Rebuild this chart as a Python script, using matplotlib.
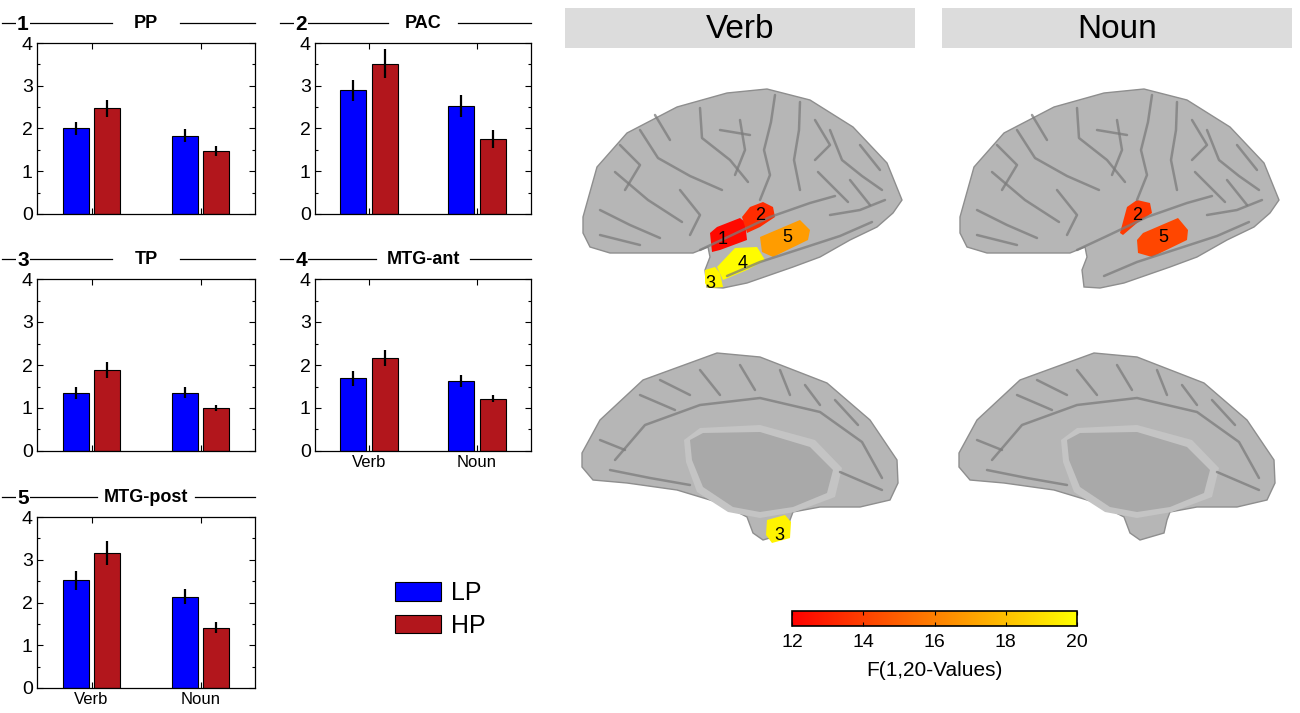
import matplotlib
matplotlib.use('Agg')
import matplotlib.pyplot as plt
import numpy as np
from matplotlib.patches import Polygon, Rectangle
from matplotlib.ticker import MultipleLocator
from matplotlib import colors as mcolors

plt.rcParams['font.family'] = ['Liberation Sans', 'DejaVu Sans']

# ---------------- data ----------------
regions = ['PP', 'PAC', 'TP', 'MTG-ant', 'MTG-post']
region_ids = ['1', '2', '3', '4', '5']
categories = ['Verb', 'Noun']
groups = ['LP', 'HP']
lp_means = [[2.00, 1.83], [2.89, 2.53], [1.34, 1.36], [1.69, 1.63], [2.52, 2.14]]
hp_means = [[2.47, 1.47], [3.52, 1.76], [1.89, 1.00], [2.17, 1.22], [3.16, 1.41]]
lp_err = [[0.16, 0.15], [0.24, 0.26], [0.14, 0.13], [0.17, 0.14], [0.22, 0.18]]
hp_err = [[0.20, 0.12], [0.33, 0.21], [0.19, 0.07], [0.19, 0.09], [0.28, 0.13]]
yticks = [0, 1, 2, 3, 4]

# ROI F-values shown on the brain maps (colour coded)
verb_roi_ids = ['1', '2', '5', '4', '3']
verb_roi_F = [12.3, 13.4, 16.9, 19.9, 19.7]
noun_roi_ids = ['2', '5']
noun_roi_F = [13.8, 14.2]
medial_roi_ids = ['3']
medial_roi_F = [19.6]
cbar_range = [12, 20]
cbar_ticks = [12, 14, 16, 18, 20]
cbar_label = 'F(1,20-Values)'
panel_titles = ['Verb', 'Noun']

LP_COLOR = '#0000FF'
HP_COLOR = '#B2161C'

W, H = 1300, 713
fig = plt.figure(figsize=(W / 100, H / 100), dpi=100)


def fr(x0, y0, x1, y1):
    return [x0 / W, 1 - y1 / H, (x1 - x0) / W, (y1 - y0) / H]


# overlay axes in pixel coordinates
ov = fig.add_axes([0, 0, 1, 1])
ov.set_xlim(0, W)
ov.set_ylim(H, 0)
ov.axis('off')

# ---------------- bar panels ----------------
boxes = [(37, 43, 255, 214), (315, 43, 531, 214), (37, 279, 255, 451),
         (315, 279, 531, 451), (37, 517, 255, 688)]
halfgaps = [34, 35, 34, 47, 49]
show_xlabels = [False, False, False, True, True]
x = np.arange(1, len(categories) + 1)
off, bw = 0.145, 0.24
bar_handles = None
for i, (x0, y0, x1, y1) in enumerate(boxes):
    ax = fig.add_axes(fr(x0, y0, x1, y1))
    b1 = ax.bar(x - off, lp_means[i], bw, color=LP_COLOR, edgecolor='black', linewidth=0.8, label=groups[0])
    b2 = ax.bar(x + off, hp_means[i], bw, color=HP_COLOR, edgecolor='black', linewidth=0.8, label=groups[1])
    ax.errorbar(x - off, lp_means[i], yerr=lp_err[i], fmt='none', ecolor='black', elinewidth=1.6, capsize=0)
    ax.errorbar(x + off, hp_means[i], yerr=hp_err[i], fmt='none', ecolor='black', elinewidth=1.6, capsize=0)
    if bar_handles is None:
        bar_handles = [b1, b2]
    ax.set_xlim(0.5, 2.5)
    ax.set_ylim(0, 4)
    ax.set_yticks(yticks)
    ax.yaxis.set_minor_locator(MultipleLocator(0.5))
    ax.set_xticks(x)
    if show_xlabels[i]:
        ax.set_xticklabels(categories, fontsize=12)
    else:
        ax.set_xticklabels([])
    ax.tick_params(axis='both', which='both', direction='in', top=True, right=True)
    ax.tick_params(axis='y', which='major', length=4, width=0.8, labelsize=14, pad=3)
    ax.tick_params(axis='y', which='minor', length=2.5, width=0.8)
    ax.tick_params(axis='x', which='major', length=4, width=0.8, pad=3)
    for s in ax.spines.values():
        s.set_linewidth(0.9)
    # header line with number and title
    ty = y0 - 20
    cx = (x0 + x1) / 2
    ov.plot([x0 - 35, cx - halfgaps[i]], [ty, ty], color='black', lw=0.9)
    ov.plot([cx + halfgaps[i], x1], [ty, ty], color='black', lw=0.9)
    ov.text(x0 - 14, ty + 1, region_ids[i], ha='center', va='center', fontsize=15, fontweight='bold',
            bbox=dict(facecolor='white', edgecolor='none', pad=1.0))
    ov.text(cx, ty, regions[i], ha='center', va='center', fontsize=13, fontweight='bold')

# legend
fig.legend(bar_handles, groups, loc='upper left', bbox_to_anchor=(395 / W, 1 - 581 / H),
           frameon=False, fontsize=18, handlelength=1.84, handleheight=0.76,
           labelspacing=0.35, handletextpad=0.4, borderpad=0, borderaxespad=0)

# ---------------- brain illustrations ----------------
cmap = plt.get_cmap('autumn')
norm = mcolors.Normalize(vmin=cbar_range[0], vmax=cbar_range[1])

for k, (bx0, bx1) in enumerate([(565, 915), (942, 1292)]):
    ov.add_patch(Rectangle((bx0, 8), bx1 - bx0, 40, facecolor='#DCDCDC', edgecolor='none'))
    ov.text((bx0 + bx1) / 2, 29, panel_titles[k], ha='center', va='center', fontsize=24)

lat_outline = [(583, 217), (597, 167), (627, 133), (677, 107), (727, 93), (767, 89), (810, 100),
               (853, 127), (887, 163), (902, 200), (893, 213), (877, 227), (850, 240), (820, 257),
               (793, 267), (747, 283), (723, 288), (707, 287), (705, 270), (710, 257), (708, 247),
               (693, 253), (660, 253), (610, 253), (590, 247), (583, 233)]
lat_sulci = [
    [(700, 250), (730, 236), (770, 217), (810, 203), (835, 196)],
    [(727, 276), (760, 262), (800, 249), (840, 236), (872, 222)],
    [(775, 95), (771, 122), (764, 150), (770, 175), (760, 200)],
    [(800, 102), (799, 130), (794, 160), (800, 190)],
    [(640, 130), (658, 158), (690, 176), (722, 190)],
    [(615, 172), (648, 200), (682, 222)],
    [(700, 108), (702, 138), (730, 160), (748, 182)],
    [(830, 130), (842, 160), (862, 176), (882, 190)],
    [(818, 172), (848, 202)],
    [(600, 210), (630, 225), (660, 238)],
    [(655, 115), (670, 140)],
    [(740, 120), (745, 150), (735, 175)],
    [(860, 145), (880, 170)],
    [(830, 215), (860, 210), (885, 200)],
    [(620, 145), (640, 165), (625, 190)],
    [(680, 190), (700, 215), (690, 235)],
    [(720, 130), (750, 135)],
    [(815, 120), (830, 145), (815, 160)],
    [(850, 180), (870, 205)],
    [(600, 235), (640, 245)],
]
med_outline = [(582, 453), (600, 420), (643, 380), (717, 353), (760, 357), (827, 383), (870, 420),
               (897, 460), (898, 483), (890, 500), (860, 507), (820, 507), (793, 512), (790, 520),
               (787, 533), (763, 540), (753, 533), (747, 517), (720, 503), (677, 490), (627, 483),
               (593, 480), (582, 467)]
med_ring = [(684, 440), (700, 428), (760, 425), (815, 440), (842, 468), (835, 497), (795, 512),
            (760, 518), (728, 512), (697, 492), (686, 462)]
med_inner = [(690, 440), (703, 433), (760, 432), (810, 447), (833, 470), (827, 493), (793, 507),
             (760, 512), (733, 507), (703, 487), (692, 460)]
med_sulci = [
    [(615, 460), (645, 425), (700, 405), (760, 398), (820, 412), (862, 442), (882, 478)],
    [(640, 395), (675, 410)],
    [(700, 370), (720, 395)],
    [(780, 370), (790, 395)],
    [(835, 400), (858, 425)],
    [(840, 472), (882, 490)],
    [(610, 470), (650, 478), (690, 485)],
    [(660, 380), (690, 395)],
    [(740, 365), (755, 390)],
    [(805, 385), (820, 405)],
    [(600, 440), (625, 450)],
]
verb_rois = [
    [(710, 233), (717, 227), (740, 218), (745, 222), (747, 240), (720, 250), (712, 252)],
    [(742, 217), (750, 207), (763, 202), (773, 207), (775, 217), (760, 227), (747, 233)],
    [(760, 237), (800, 220), (810, 230), (808, 240), (773, 257), (762, 252)],
    [(717, 267), (735, 248), (757, 247), (765, 260), (747, 270), (723, 280)],
    [(705, 270), (715, 267), (720, 273), (723, 287), (708, 288), (705, 283)],
]
verb_roi_label_pos = [(723, 240), (760, 215), (787, 238), (743, 263), (710, 283)]
noun_rois = [
    [(1120, 233), (1127, 207), (1137, 200), (1150, 203), (1152, 213), (1137, 223), (1123, 235)],
    [(1137, 240), (1143, 233), (1178, 218), (1188, 230), (1187, 240), (1152, 257), (1138, 253)],
]
noun_roi_label_pos = [(1137, 215), (1163, 238)]
medial_rois = [[(767, 520), (785, 515), (791, 522), (790, 538), (772, 543), (766, 535)]]
medial_roi_label_pos = [(779, 536)]


def shifted(pts, dx):
    return [(px + dx, py) for px, py in pts]


BRAIN = '#B6B6B6'
SULC = '#7C7C7C'
for dx in (0, 377):
    ov.add_patch(Polygon(shifted(lat_outline, dx), closed=True, facecolor=BRAIN, edgecolor='#8E8E8E', lw=1.0))
    for s in lat_sulci:
        xs, ys = zip(*shifted(s, dx))
        ov.plot(xs, ys, color=SULC, lw=1.8, solid_capstyle='round', alpha=0.75)
    ov.add_patch(Polygon(shifted(med_outline, dx), closed=True, facecolor=BRAIN, edgecolor='#8E8E8E', lw=1.0))
    for s in med_sulci:
        xs, ys = zip(*shifted(s, dx))
        ov.plot(xs, ys, color=SULC, lw=1.8, solid_capstyle='round', alpha=0.75)
    ov.add_patch(Polygon(shifted(med_ring, dx), closed=True, facecolor='#C4C4C4', edgecolor='none'))
    ov.add_patch(Polygon(shifted(med_inner, dx), closed=True, facecolor='#A9A9A9', edgecolor='none'))

for poly, F, lab, pos in zip(verb_rois, verb_roi_F, verb_roi_ids, verb_roi_label_pos):
    ov.add_patch(Polygon(poly, closed=True, facecolor=cmap(norm(F)), edgecolor='none'))
    ov.text(pos[0], pos[1], lab, ha='center', va='center', fontsize=13)
for poly, F, lab, pos in zip(noun_rois, noun_roi_F, noun_roi_ids, noun_roi_label_pos):
    ov.add_patch(Polygon(poly, closed=True, facecolor=cmap(norm(F)), edgecolor='none'))
    ov.text(pos[0], pos[1], lab, ha='center', va='center', fontsize=13)
for poly, F, lab, pos in zip(medial_rois, medial_roi_F, medial_roi_ids, medial_roi_label_pos):
    ov.add_patch(Polygon(poly, closed=True, facecolor=cmap(norm(F)), edgecolor='none'))
    ov.text(pos[0], pos[1], lab, ha='center', va='center', fontsize=13)

# ---------------- colorbar ----------------
cax = fig.add_axes(fr(792, 611, 1077, 626))
sm = plt.cm.ScalarMappable(norm=norm, cmap=cmap)
cb = fig.colorbar(sm, cax=cax, orientation='horizontal')
cb.set_ticks(cbar_ticks)
cb.ax.tick_params(direction='in', top=True, bottom=True, length=3, width=0.8, labelsize=14, pad=6)
cb.outline.set_linewidth(1.2)
cb.set_label(cbar_label, fontsize=15, labelpad=7)

fig.savefig('out.png', dpi=100)
